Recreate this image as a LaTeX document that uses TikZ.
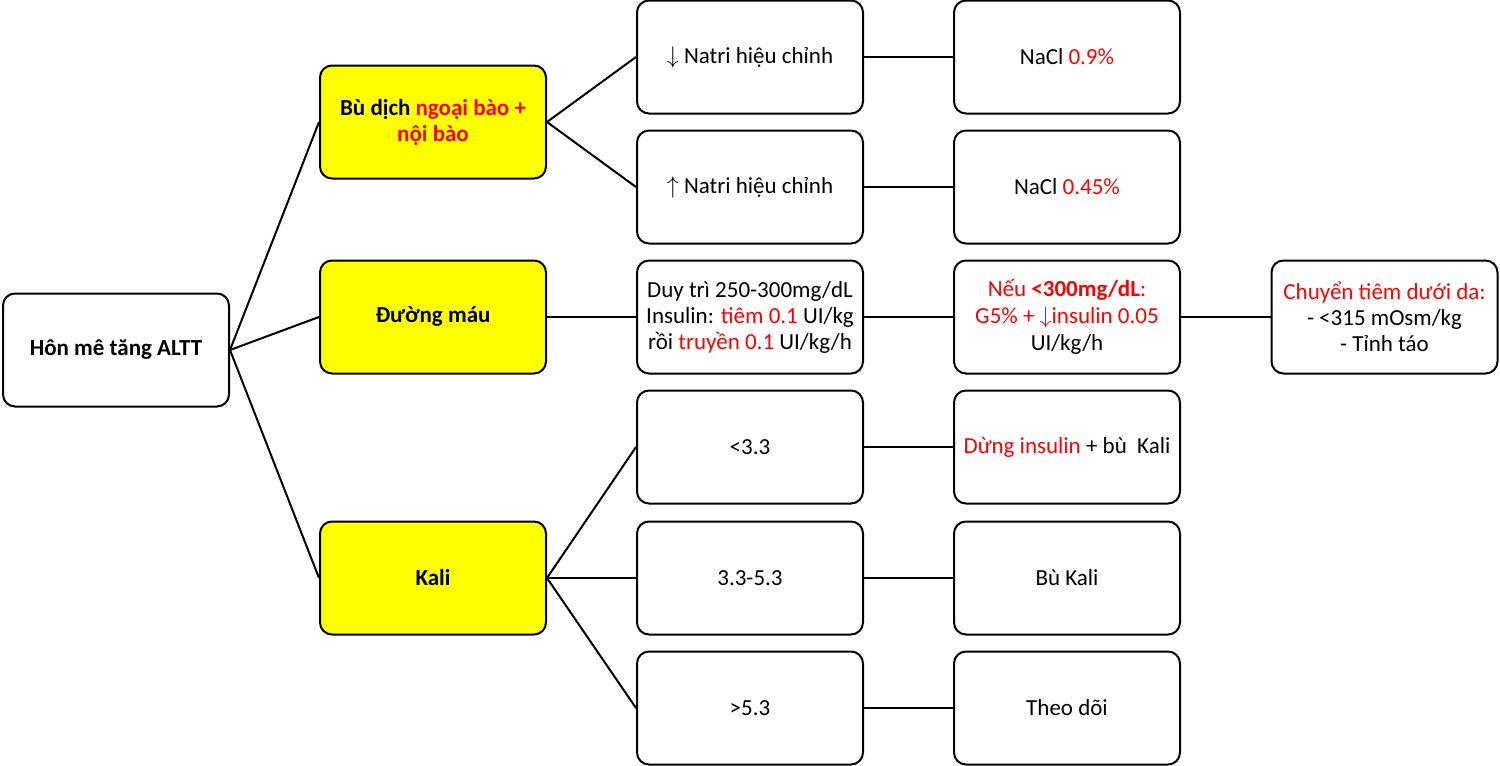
\documentclass[tikz,border=0pt]{standalone}
\usepackage{fontspec}
\setmainfont{Carlito}
\definecolor{myred}{RGB}{255,0,0}
\definecolor{myyellow}{RGB}{255,255,0}
\newcommand{\rd}[1]{\textcolor{myred}{#1}}
\newcommand{\dnar}{\ensuremath{\downarrow}}
\newcommand{\uparr}{\ensuremath{\uparrow}}
\begin{document}
\begin{tikzpicture}[x=0.5pt,y=-0.5pt,
  box/.style={draw=black, line width=1pt, rounded corners=6pt, fill=white,
    minimum width=113pt, minimum height=56.5pt, align=center, inner sep=2pt,
    font=\fontsize{11.5}{13}\selectfont},
  ybox/.style={box, fill=myyellow, font=\fontsize{11.5}{13}\selectfont\bfseries},
  conn/.style={draw=black, line width=1pt}]
\useasboundingbox (0,0) rectangle (1500,766);
% root
\node[box, font=\fontsize{11.5}{13}\selectfont\bfseries] (root) at (116,350) {Hôn mê tăng ALTT};
% yellow
\node[ybox] (bu) at (433,122) {Bù dịch \rd{ngoại bào +}\\\rd{nội bào}};
\node[ybox] (duong) at (433,317) {Đường máu};
\node[ybox] (kali) at (433,578) {Kali};
% column 3
\node[box] (c1) at (750,57) {\dnar\ Natri hiệu chỉnh};
\node[box] (c2) at (750,187) {\uparr\ Natri hiệu chỉnh};
\node[box] (c3) at (750,317) {Duy trì 250-300mg/dL\\Insulin: \rd{tiêm 0.1} UI/kg\\rồi \rd{truyền 0.1} UI/kg/h};
\node[box] (c4) at (750,447) {<3.3};
\node[box] (c5) at (750,578) {3.3-5.3};
\node[box] (c6) at (750,708) {>5.3};
% column 4
\node[box] (d1) at (1067,57) {NaCl \rd{0.9\%}};
\node[box] (d2) at (1067,187) {NaCl \rd{0.45\%}};
\node[box, font=\fontsize{11.5}{13.6}\selectfont] (d3) at (1067,317) {\rd{Nếu \textbf{<300mg/dL}:}\\\rd{G5\% + \smash{\dnar}insulin 0.05}\\UI/kg/h};
\node[box] (d4) at (1067,447) {\rd{Dừng insulin} + bù~ Kali};
\node[box] (d5) at (1067,578) {Bù Kali};
\node[box] (d6) at (1067,708) {Theo dõi};
% column 5
\node[box] (e3) at (1384.5,317) {\rd{Chuyển tiêm dưới da:}\\- <315 mOsm/kg\\- Tỉnh táo};
% connectors
\draw[conn] (root.east) -- (bu.west);
\draw[conn] (root.east) -- (duong.west);
\draw[conn] (root.east) -- (kali.west);
\draw[conn] (bu.east) -- (c1.west);
\draw[conn] (bu.east) -- (c2.west);
\draw[conn] (duong.east) -- (c3.west);
\draw[conn] (kali.east) -- (c4.west);
\draw[conn] (kali.east) -- (c5.west);
\draw[conn] (kali.east) -- (c6.west);
\draw[conn] (c1.east) -- (d1.west);
\draw[conn] (c2.east) -- (d2.west);
\draw[conn] (c3.east) -- (d3.west);
\draw[conn] (c4.east) -- (d4.west);
\draw[conn] (c5.east) -- (d5.west);
\draw[conn] (c6.east) -- (d6.west);
\draw[conn] (d3.east) -- (e3.west);
\end{tikzpicture}
\end{document}
